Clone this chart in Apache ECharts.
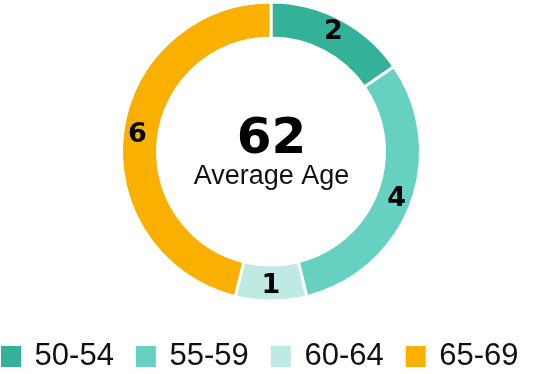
<!DOCTYPE html>
<html><head><meta charset="utf-8">
<script src="https://cdn.jsdelivr.net/npm/echarts@6/dist/echarts.min.js"></script>
<style>html,body{margin:0;padding:0;background:#fff}#c{width:543px;height:374px}</style>
</head><body><div id="c"></div>
<script>
const categories = ['50-54', '55-59', '60-64', '65-69'];
const counts = [2, 4, 1, 6];
const colors = ['#34b199', '#66d1c1', '#bfeae3', '#f9b000'];
const averageAge = '62';
const averageLabel = 'Average Age';

const chart = echarts.init(document.getElementById('c'), null, {renderer: 'canvas'});
chart.setOption({
  animation: false,
  color: colors,
  legend: {
    data: categories,
    left: 1, bottom: 2,
    padding: 0,
    icon: 'rect',
    itemWidth: 20, itemHeight: 21,
    itemGap: 22,
    itemStyle: {borderWidth: 0},
    formatter: ' {name}',
    textStyle: {fontFamily: 'Liberation Sans', fontSize: 31, color: '#111'}
  },
  graphic: [
    {type: 'text', left: 'center', top: 115, style: {text: averageAge, font: 'bold 50px "DejaVu Sans"', fill: '#000'}},
    {type: 'text', left: 'center', top: 163, style: {text: averageLabel, font: '27px "Liberation Sans"', fill: '#111'}}
  ],
  series: [{
    type: 'pie',
    center: [271, 151.5],
    radius: [113.5, 149.5],
    startAngle: 90,
    clockwise: true,
    itemStyle: {borderColor: '#fff', borderWidth: 3},
    label: {show: true, position: 'inside', formatter: '{c}', fontFamily: 'DejaVu Sans', fontWeight: 'bold', fontSize: 27, color: '#000'},
    labelLine: {show: false},
    emphasis: {disabled: true},
    data: categories.map((c, i) => ({name: c, value: counts[i]}))
  }]
});
</script></body></html>
